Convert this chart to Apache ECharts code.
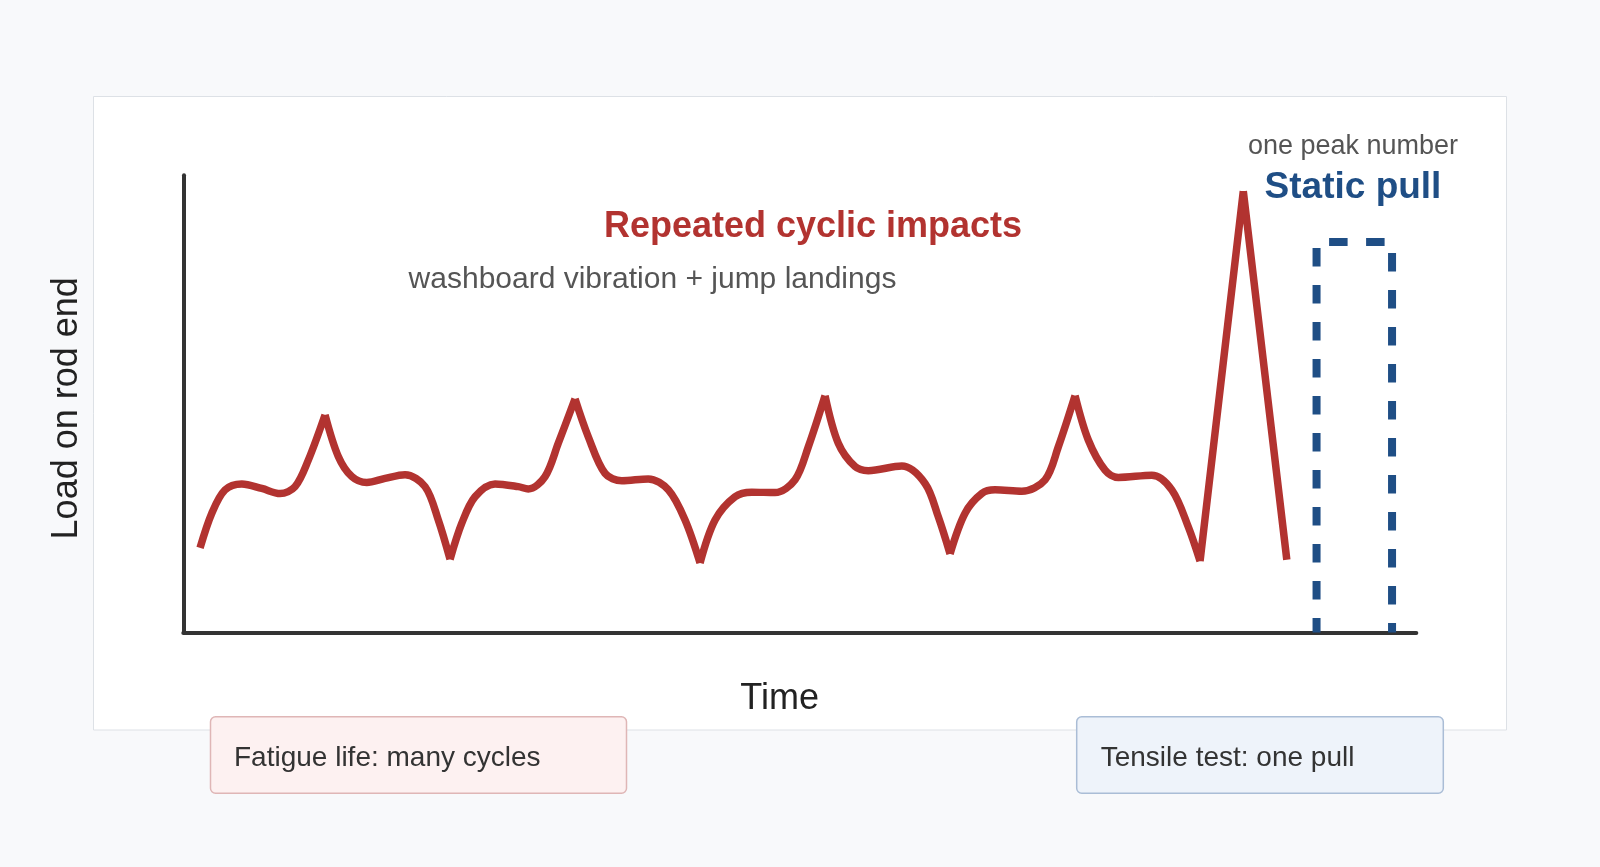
<!DOCTYPE html>
<html>
<head>
<meta charset="utf-8">
<style>
html,body{margin:0;padding:0;background:#f8f9fb;}
#chart{width:1600px;height:867px;}
</style>
<script src="https://cdn.jsdelivr.net/npm/echarts@6/dist/echarts.min.js"></script>
</head>
<body>
<div id="chart"></div>
<script>
// ---- data ----
const timeRange = [0, 49.32];
const loadRange = [0, 100];

// Cyclic load trace (time units, load units)
const loadTime = [
  0.67, 1.14, 1.67, 2.34, 3.14, 3.87, 4.47, 5.0, 5.67, 6.2, 6.74, 7.34, 8.07, 8.87, 9.67, 10.2, 10.67,
  11.14, 11.67, 12.47, 13.4, 13.8, 14.47, 15.0, 15.67, 16.2, 16.87, 17.54, 18.6, 19.4, 20.07, 20.67,
  21.27, 22.07, 22.74, 23.67, 24.47, 25.0, 25.67, 26.2, 26.87, 27.4, 28.74, 29.67, 30.2, 30.67,
  31.27, 31.94, 32.47, 33.54, 34.47, 35.0, 35.67, 36.2, 36.87, 37.4, 38.74, 39.54, 40.2, 40.67,
  42.4, 44.14
];
const loadValue = [
  18.5, 26.1, 31.2, 32.5, 31.5, 30.4, 31.9, 37.7, 47.6, 38.5, 34.1, 32.8, 33.7, 34.5, 31.9, 24.6, 16.0,
  23.9, 29.7, 32.5, 31.9, 31.4, 34.1, 41.4, 51.1, 42.8, 34.8, 33.2, 33.6, 31.2, 24.6, 15.2,
  24.6, 29.7, 30.7, 30.6, 33.4, 40.6, 51.8, 41.4, 36.3, 35.4, 36.4, 32.6, 25.3, 17.2,
  26.1, 30.4, 31.2, 30.9, 33.4, 40.6, 51.8, 42.1, 35.5, 33.9, 34.4, 31.2, 23.1, 15.6,
  96.5, 15.9
];
// indices of sharp corners (impact peaks and landings)
const cuspIndex = [8, 16, 24, 31, 38, 45, 52, 59, 60];

// Static pull pulse
const pullTime = [45.33, 45.33, 48.35, 48.35];
const pullLoad = [0, 85.4, 85.4, 0];

// ---- build series data ----
const redData = [];
loadTime.forEach((t, i) => {
  redData.push([t, loadValue[i]]);
  if (cuspIndex.includes(i) && i < loadTime.length - 1) {
    redData.push(['-', '-']);
    redData.push([t, loadValue[i]]);
  }
});
const pullData = pullTime.map((t, i) => [t, pullLoad[i]]);

const FONT = 'Liberation Sans, Arial, Helvetica, sans-serif';
const chart = echarts.init(document.getElementById('chart'), null, {renderer: 'canvas'});

chart.setOption({
  animation: false,
  backgroundColor: '#f8f9fb',
  grid: {left: 183.3, top: 175.3, width: 1233, height: 457.2, containLabel: false},
  xAxis: {
    type: 'value', min: timeRange[0], max: timeRange[1],
    axisLine: {show: true, onZero: false, lineStyle: {color: '#333333', width: 4}},
    axisTick: {show: false}, axisLabel: {show: false}, splitLine: {show: false}
  },
  yAxis: {
    type: 'value', min: loadRange[0], max: loadRange[1],
    axisLine: {show: true, onZero: false, lineStyle: {color: '#333333', width: 4}},
    axisTick: {show: false}, axisLabel: {show: false}, splitLine: {show: false}
  },
  series: [
    {
      type: 'line', data: redData, smooth: 0.33, symbol: 'none', showSymbol: false,
      connectNulls: false, clip: false, z: 3,
      lineStyle: {color: '#b23330', width: 7.5, cap: 'butt', join: 'round'}
    },
    {
      type: 'line', data: pullData, smooth: false, symbol: 'none', showSymbol: false,
      clip: false, z: 4,
      lineStyle: {color: '#1f4e85', width: 8, type: [18.5, 18.5], dashOffset: 4, cap: 'butt'}
    }
  ],
  graphic: [
    {type: 'rect', z: -10, shape: {x: 93.5, y: 96.5, width: 1413, height: 633.5},
     style: {fill: '#ffffff', stroke: '#dde1e6', lineWidth: 1}},
    {type: 'text', z: 10, x: 813, y: 227, style: {text: 'Repeated cyclic impacts', fill: '#b23330',
      font: 'bold 36px ' + FONT, align: 'center', verticalAlign: 'middle'}},
    {type: 'text', z: 10, x: 408.6, y: 279.5, style: {text: 'washboard vibration + jump landings', fill: '#555555',
      font: '30px ' + FONT, align: 'left', verticalAlign: 'middle'}},
    {type: 'text', z: 10, x: 1353, y: 146.8, style: {text: 'one peak number', fill: '#555555',
      font: '27px ' + FONT, align: 'center', verticalAlign: 'middle'}},
    {type: 'text', z: 10, x: 1353, y: 187.5, style: {text: 'Static pull', fill: '#1f4e85',
      font: 'bold 37px ' + FONT, align: 'center', verticalAlign: 'middle'}},
    {type: 'text', z: 10, x: 779.7, y: 699.5, style: {text: 'Time', fill: '#222222',
      font: '36px ' + FONT, align: 'center', verticalAlign: 'middle'}},
    {type: 'text', z: 10, x: 67.5, y: 408.3, rotation: Math.PI / 2, style: {text: 'Load on rod end', fill: '#222222',
      font: '36px ' + FONT, align: 'center', verticalAlign: 'middle'}},
    {type: 'rect', z: 10, shape: {x: 210.5, y: 716.7, width: 416, height: 76.6, r: 5},
     style: {fill: '#fdf1f1', stroke: '#dfb6b6', lineWidth: 1.5}},
    {type: 'text', z: 11, x: 234, y: 758.5, style: {text: 'Fatigue life: many cycles', fill: '#333333',
      font: '28px ' + FONT, align: 'left', verticalAlign: 'middle'}},
    {type: 'rect', z: 10, shape: {x: 1076.7, y: 716.7, width: 366.6, height: 76.6, r: 5},
     style: {fill: '#eef3fa', stroke: '#aabdd6', lineWidth: 1.5}},
    {type: 'text', z: 11, x: 1100.7, y: 758.5, style: {text: 'Tensile test: one pull', fill: '#333333',
      font: '28px ' + FONT, align: 'left', verticalAlign: 'middle'}}
  ]
});
</script>
</body>
</html>
